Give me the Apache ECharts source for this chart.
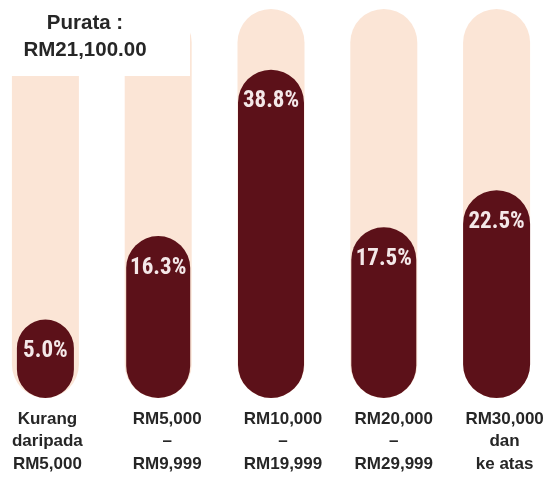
<!DOCTYPE html>
<html>
<head>
<meta charset="utf-8">
<script src="https://cdn.jsdelivr.net/npm/echarts@6/dist/echarts.min.js"></script>
<style>
  html, body { margin: 0; padding: 0; background: #ffffff; }
  #chart { width: 547px; height: 477px; }
</style>
</head>
<body>
<div id="chart"></div>
<script>
// Household income brackets and share of households in each (%)
const categories = [
  'Kurang\ndaripada\nRM5,000',
  'RM5,000\n–\nRM9,999',
  'RM10,000\n–\nRM19,999',
  'RM20,000\n–\nRM29,999',
  'RM30,000\ndan\nke atas'
];
const shares = [5.0, 16.3, 38.8, 17.5, 22.5];
const averageLines = ['Purata :', 'RM21,100.00'];

// Value axis range: the pills start a little below zero so the rounded foot sits under the baseline
const AXIS_MIN = -5.6;
const AXIS_MAX = 47;

const DARK = '#5c1119';
const TRACK = '#fbe5d6';
const pillWidths = [57, 64, 66, 65, 67];
const trackWidth = 67;
const labelNudge = [2, 9, 12, 10, 8];
const pctFont = "bold 23px 'Liberation Sans Narrow', 'Roboto Condensed', 'DejaVu Sans Condensed', sans-serif";

function pillShape(api, value, width) {
  const idx = api.value(0);
  const top = api.coord([idx, value]);
  const foot = api.coord([idx, AXIS_MIN]);
  return {
    x: top[0] - width / 2,
    y: top[1],
    width: width,
    height: foot[1] - top[1],
    r: width / 2
  };
}

const chart = echarts.init(document.getElementById('chart'), null, { renderer: 'canvas' });

chart.setOption({
  animation: false,
  backgroundColor: '#ffffff',
  grid: { left: -11, right: -6, top: 9, bottom: 79, containLabel: false, outerBoundsMode: 'none' },
  title: {
    text: averageLines.join('\n'),
    left: 85,
    top: 10,
    textAlign: 'center',
    padding: 0,
    z: 8,
    textStyle: {
      fontFamily: "'Liberation Sans', Arial, sans-serif",
      fontSize: 20.5,
      fontWeight: 'bold',
      lineHeight: 27,
      color: '#262626'
    }
  },
  graphic: [{
    type: 'rect',
    z: 7,
    shape: { x: 0, y: 0, width: 190, height: 76 },
    style: { fill: '#ffffff' }
  }],
  xAxis: {
    type: 'category',
    data: categories,
    axisLine: { show: false },
    axisTick: { show: false },
    splitLine: { show: false },
    axisLabel: {
      interval: 0,
      margin: 10,
      formatter: function (value, index) {
        return value.split('\n').map(function (line) {
          return '{c' + index + '|' + line + '}';
        }).join('\n');
      },
      rich: Object.fromEntries(labelNudge.map(function (n, i) {
        return ['c' + i, {
          fontFamily: "'Liberation Sans', Arial, sans-serif",
          fontSize: 17,
          fontWeight: 'bold',
          color: '#262626',
          lineHeight: 22.5,
          padding: [0, 0, 0, n * 2]
        }];
      }))
    }
  },
  yAxis: {
    type: 'value',
    min: AXIS_MIN,
    max: AXIS_MAX,
    show: false,
    splitLine: { show: false }
  },
  series: [
    {
      // light track behind each bracket
      type: 'custom',
      z: 2,
      data: categories.map(function (c, i) { return [i, AXIS_MAX]; }),
      renderItem: function (params, api) {
        return {
          type: 'rect',
          shape: pillShape(api, api.value(1), trackWidth),
          style: { fill: TRACK }
        };
      }
    },
    {
      // share of households
      type: 'custom',
      z: 3,
      data: shares.map(function (v, i) { return [i, v]; }),
      renderItem: function (params, api) {
        const v = api.value(1);
        const shape = pillShape(api, v, pillWidths[params.dataIndex]);
        return {
          type: 'group',
          children: [
            { type: 'rect', shape: shape, style: { fill: DARK } },
            {
              type: 'text',
              style: {
                text: v.toFixed(1) + '%',
                x: shape.x + shape.width / 2,
                y: shape.y + 32,
                align: 'center',
                verticalAlign: 'middle',
                font: pctFont,
                fill: '#f4e8e8'
              }
            }
          ]
        };
      }
    }
  ]
});
</script>
</body>
</html>
